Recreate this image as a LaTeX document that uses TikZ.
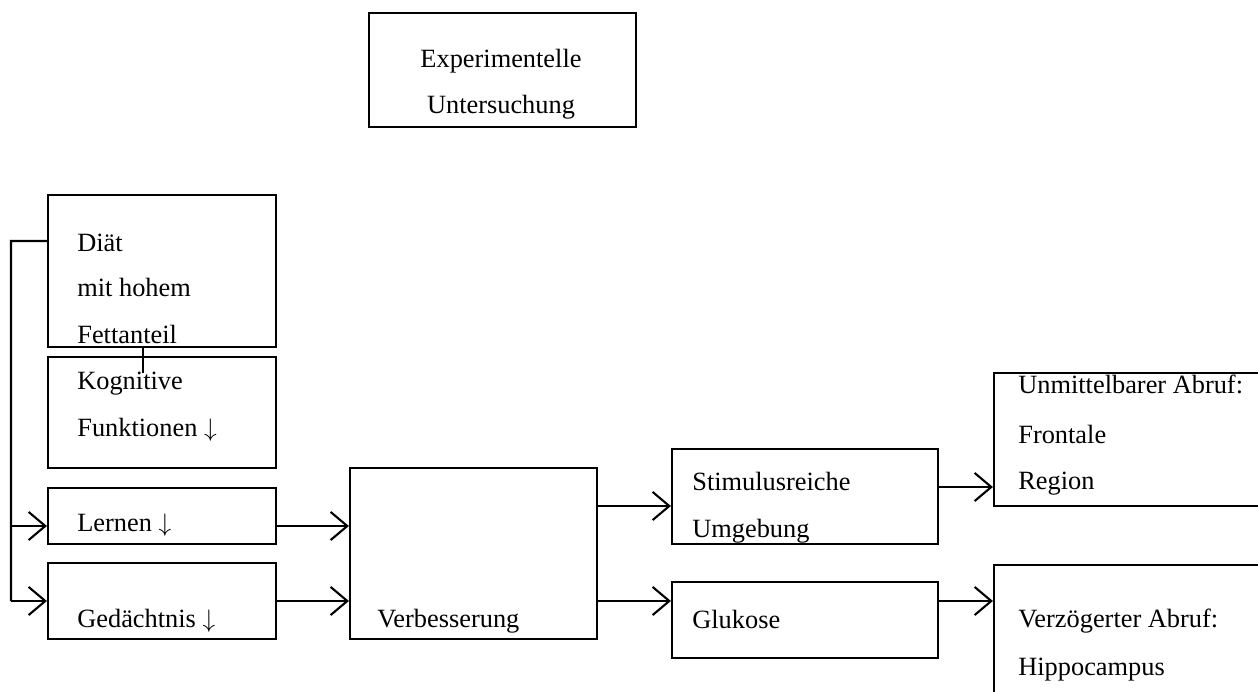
\documentclass[tikz,border=0pt]{standalone}
\usepackage{fontspec}
\setmainfont{Liberation Serif}
\usetikzlibrary{arrows.meta,positioning,calc}
\tikzset{
  >={Straight Barb[length=9.5pt, width=16pt]},
  box/.style={draw, line width=1.2pt, inner sep=0pt},
  txt/.style={anchor=base west, inner sep=0pt, font=\fontsize{15}{18}\selectfont},
  flow/.style={->, line width=1.2pt},
}
\begin{document}
\begin{tikzpicture}
  \useasboundingbox (0,0) rectangle (25.16,-13.82);
  \clip (0,0) rectangle (25.16,-13.82);
  % boxes
  \node[box, minimum width=5.34cm, minimum height=2.28cm] (exp)   at (10.05,-1.40) {};
  \node[box, minimum width=4.56cm, minimum height=3.04cm] (diet)  at (3.24,-5.42)  {};
  \node[box, minimum width=4.56cm, minimum height=2.22cm] (cog)   at (3.24,-8.25)  {};
  \node[box, minimum width=4.56cm, minimum height=1.12cm] (learn) at (3.24,-10.32) {};
  \node[box, minimum width=4.56cm, minimum height=1.52cm] (mem)   at (3.24,-12.02) {};
  \node[box, minimum width=4.94cm, minimum height=3.42cm] (impr)  at (9.47,-11.07) {};
  \node[box, minimum width=5.32cm, minimum height=1.90cm] (stim)  at (16.10,-9.93) {};
  \node[box, minimum width=5.32cm, minimum height=1.52cm] (gluc)  at (16.10,-12.40) {};
  \node[box, minimum width=5.92cm, minimum height=2.66cm] (front) at (22.84,-8.79) {};
  \node[box, minimum width=5.92cm, minimum height=3.70cm] (hippo) at (22.84,-13.15) {};
  % texts
  \node[txt, anchor=base] (expa) at (10.02,-1.34) {Experimentelle};
  \node[txt, anchor=base] (expb) at (10.02,-2.26) {Untersuchung};
  \node[txt] (dieta) at (1.54,-5.03) {Diät};
  \node[txt] (dietb) at (1.54,-5.93) {mit hohem};
  \node[txt] (dietc) at (1.54,-6.87) {Fettanteil};
  \node[txt] (coga)  at (1.54,-7.78) {Kognitive};
  \node[txt] (cogb)  at (1.54,-8.72) {Funktionen $\downarrow$};
  \node[txt] (learnt) at (1.54,-10.63) {Lernen $\downarrow$};
  \node[txt] (memt)  at (1.54,-12.54) {Gedächtnis $\downarrow$};
  \node[txt] (imprt) at (7.54,-12.54) {Verbesserung};
  \node[txt] (stima) at (13.84,-9.80) {Stimulusreiche};
  \node[txt] (stimb) at (13.84,-10.74) {Umgebung};
  \node[txt] (glukt) at (13.84,-12.56) {Glukose};
  \node[txt] (fronta) at (20.36,-7.86) {Unmittelbarer Abruf:};
  \node[txt] (frontb) at (20.36,-8.86) {Frontale};
  \node[txt] (frontc) at (20.36,-9.78) {Region};
  \node[txt] (hippoa) at (20.36,-12.54) {Verzögerter Abruf:};
  \node[txt] (hippob) at (20.36,-13.50) {Hippocampus};
  % left bus
  \coordinate (bus) at (0.22,-4.82);
  \draw[line width=1.2pt] ([yshift=0.6cm]diet.west) -- (bus) -- (bus |- mem.west);
  \draw[flow] (bus |- mem.west) -- (mem.west);
  \draw[flow] ([yshift=-0.2cm]bus |- learn.west) -- ([yshift=-0.2cm]learn.west);
  \draw[line width=1.2pt] ([xshift=-0.38cm]diet.south) -- ++(0,-0.5);
  % into improvement
  \draw[flow] ([yshift=-0.2cm]learn.east) -- ([yshift=-0.2cm]learn.east -| impr.west);
  \draw[flow] (mem.east) -- (mem.east -| impr.west);
  \draw[flow] ([yshift=0.95cm]impr.east) -- ([yshift=0.95cm]impr.east -| stim.west);
  \draw[flow] ([yshift=-0.95cm]impr.east) -- ([yshift=-0.95cm]impr.east -| gluc.west);
  % to regions
  \draw[flow] ([yshift=0.19cm]stim.east) -- ([yshift=0.19cm]stim.east -| front.west);
  \draw[flow] ([yshift=0.38cm]gluc.east) -- ([yshift=0.38cm]gluc.east -| hippo.west);
\end{tikzpicture}
\end{document}
